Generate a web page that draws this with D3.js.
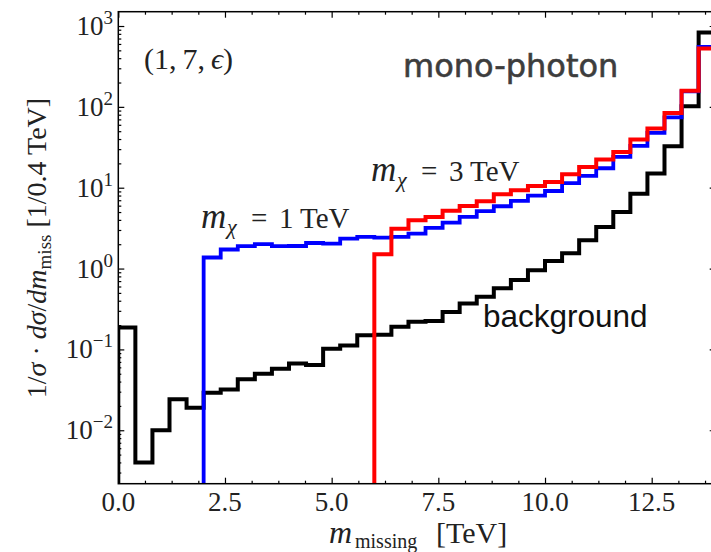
<!DOCTYPE html>
<html>
<head>
<meta charset="utf-8">
<script src="https://cdn.jsdelivr.net/npm/d3@7/dist/d3.min.js"></script>
<style>
  html, body { margin: 0; padding: 0; background: #fff; }
  svg { display: block; }
</style>
</head>
<body>
<svg id="chart" width="711" height="552"></svg>
<script>
// ---------------- data ----------------
const binStart = [0, 0.4, 0.8, 1.2, 1.6, 2.0, 2.4, 2.8, 3.2, 3.6, 4.0, 4.4, 4.8, 5.2, 5.6,
                  6.0, 6.4, 6.8, 7.2, 7.6, 8.0, 8.4, 8.8, 9.2, 9.6, 10.0, 10.4, 10.8, 11.2,
                  11.6, 12.0, 12.4, 12.8, 13.2, 13.6];
const binWidth = 0.4;

const background = [0.186, 0.0040, 0.0100, 0.0242, 0.019, 0.029, 0.032, 0.0426, 0.050, 0.0577,
                    0.067, 0.064, 0.102, 0.112, 0.150, 0.152, 0.191, 0.220, 0.224, 0.29,
                    0.371, 0.449, 0.57, 0.72, 0.95, 1.24, 1.55, 2.24, 3.27, 5.0,
                    8.4, 15.0, 32.6, 102, 834];

const signal1TeV = [null, null, null, null, null,
                    1.37, 1.72, 1.89, 2.0, 1.89, 1.9, 2.07, 2.04, 2.35, 2.46,
                    2.42, 2.46, 2.71, 3.18, 3.71, 4.35, 5.14, 5.9, 6.87, 8.0,
                    9.1, 11.4, 14.0, 17.4, 24, 32.9, 47.6, 74, 155, 553];

const signal3TeV = [null, null, null, null, null, null, null, null, null, null,
                    null, null, null, null, null,
                    1.5, 3.1, 3.96, 4.35, 5.2, 5.95, 6.8, 8.3, 9.3, 10.5,
                    11.8, 14.7, 18.1, 22.3, 27.7, 39.5, 54, 84, 158, 528];

const xMajorTicks = [0, 2.5, 5.0, 7.5, 10.0, 12.5];
const xTickLabels = ["0.0", "2.5", "5.0", "7.5", "10.0", "12.5"];
const yMajorTicks = [1e-2, 1e-1, 1e0, 1e1, 1e2, 1e3];
const yTickExponents = ["\u22122", "\u22121", "0", "1", "2", "3"];

// ---------------- layout ----------------
const svg = d3.select("#chart");
const L = 118.3, R = 715.7, T = 11.7, B = 483.7;
const x = d3.scaleLinear().domain([0, 14]).range([L, R]);
const y = d3.scaleLog().domain([Math.pow(10, -2.661), Math.pow(10, 3.177)]).range([B, T]);

const serif = "'Liberation Serif', 'Times New Roman', serif";
const ink = "#222";

svg.append("defs").append("clipPath").attr("id", "plotclip")
  .append("rect").attr("x", L).attr("y", T).attr("width", R - L).attr("height", B - T);

// ---------------- axes (ticks inward) ----------------
const xMinor = d3.range(0, 14.01, 0.625).filter(v => Math.abs(v / 2.5 - Math.round(v / 2.5)) > 1e-6);
const yMinor = [];
for (let e = -3; e <= 3; e++) for (let m = 2; m <= 9; m++) {
  const v = m * Math.pow(10, e);
  if (v > y.domain()[0] && v < y.domain()[1]) yMinor.push(v);
}

function styleAxis(g) {
  g.select(".domain").remove();
  g.selectAll(".tick line").attr("stroke", "#000").attr("stroke-width", 1.2);
  g.selectAll(".tick text").remove();
}
svg.append("g").attr("transform", `translate(0,${B})`)
  .call(d3.axisBottom(x).tickValues(xMajorTicks).tickSize(-6).tickFormat("")).call(styleAxis);
svg.append("g").attr("transform", `translate(0,${B})`)
  .call(d3.axisBottom(x).tickValues(xMinor).tickSize(-3).tickFormat("")).call(styleAxis);
svg.append("g").attr("transform", `translate(0,${T})`)
  .call(d3.axisTop(x).tickValues(xMajorTicks).tickSize(-6).tickFormat("")).call(styleAxis);
svg.append("g").attr("transform", `translate(0,${T})`)
  .call(d3.axisTop(x).tickValues(xMinor).tickSize(-3).tickFormat("")).call(styleAxis);
svg.append("g").attr("transform", `translate(${L},0)`)
  .call(d3.axisLeft(y).tickValues(yMajorTicks).tickSize(-6).tickFormat("")).call(styleAxis);
svg.append("g").attr("transform", `translate(${L},0)`)
  .call(d3.axisLeft(y).tickValues(yMinor).tickSize(-3).tickFormat("")).call(styleAxis);
svg.append("g").attr("transform", `translate(${R},0)`)
  .call(d3.axisRight(y).tickValues(yMajorTicks).tickSize(-6).tickFormat("")).call(styleAxis);
svg.append("g").attr("transform", `translate(${R},0)`)
  .call(d3.axisRight(y).tickValues(yMinor).tickSize(-3).tickFormat("")).call(styleAxis);

// tick labels
svg.append("g").selectAll("text").data(xMajorTicks).join("text")
  .attr("x", d => x(d)).attr("y", B + 27)
  .attr("text-anchor", "middle")
  .attr("font-family", serif).attr("font-size", 27).attr("fill", ink)
  .text((d, i) => xTickLabels[i]);

const yl = svg.append("g").selectAll("text").data(yMajorTicks).join("text")
  .attr("x", 113).attr("y", d => y(d) + 9)
  .attr("text-anchor", "end")
  .attr("font-family", serif).attr("fill", ink);
yl.append("tspan").attr("font-size", 27).text("10");
yl.append("tspan").attr("font-size", 19).attr("dy", -11).text((d, i) => yTickExponents[i]);

// ---------------- histogram steps ----------------
function stepPoints(vals) {
  const pts = [];
  let started = false, lastX = 0;
  vals.forEach((v, i) => {
    if (v == null) return;
    const x0 = binStart[i], x1 = binStart[i] + binWidth;
    if (!started) { pts.push([x(x0), B + 20]); started = true; }
    pts.push([x(x0), y(v)], [x(x1), y(v)]);
    lastX = x1;
  });
  pts.push([x(lastX), B + 20]);
  return pts;
}
const line = d3.line();
const plot = svg.append("g").attr("clip-path", "url(#plotclip)");
[[background, "#000", 4], [signal1TeV, "#0000ff", 3.8], [signal3TeV, "#ff0000", 4]].forEach(([vals, col, w]) => {
  plot.append("path").attr("d", line(stepPoints(vals)))
    .attr("fill", "none").attr("stroke", col).attr("stroke-width", w)
    .attr("stroke-linejoin", "miter").attr("stroke-linecap", "butt");
});

// frame
svg.append("rect").attr("x", L).attr("y", T).attr("width", R - L).attr("height", B - T)
  .attr("fill", "none").attr("stroke", "#000").attr("stroke-width", 1.5);

// ---------------- axis titles ----------------
const xt = svg.append("text").attr("y", 543)
  .attr("font-family", serif).attr("font-size", 30).attr("fill", ink);
xt.append("tspan").attr("x", 329).attr("font-style", "italic").attr("font-size", 32).text("m");
xt.append("tspan").attr("x", 355).attr("font-size", 20).attr("dy", 5).text("missing");
xt.append("tspan").attr("x", 436).attr("dy", -5).text("[TeV]");

const yt = svg.append("text").attr("transform", "translate(46,248) rotate(-90)")
  .attr("text-anchor", "middle")
  .attr("font-family", serif).attr("font-size", 28).attr("fill", ink);
yt.append("tspan").text("1/");
yt.append("tspan").attr("font-style", "italic").text("\u03C3");
yt.append("tspan").text(" \u00B7 ");
yt.append("tspan").attr("font-style", "italic").text("d\u03C3");
yt.append("tspan").text("/");
yt.append("tspan").attr("font-style", "italic").text("dm");
yt.append("tspan").attr("font-size", 19).attr("dy", 5).text("miss");
yt.append("tspan").attr("dy", -5).text(" [1/0.4 TeV]");

// ---------------- annotations ----------------
const a1 = svg.append("text").attr("x", 144).attr("y", 69)
  .attr("font-family", serif).attr("font-size", 30).attr("fill", ink);
a1.append("tspan").text("(1,\u20097,\u2009");
a1.append("tspan").attr("font-style", "italic").text("\u03F5");
a1.append("tspan").text(")");

svg.append("text").attr("x", 403).attr("y", 77)
  .attr("font-family", "'DejaVu Sans', sans-serif").attr("font-size", 32)
  .attr("fill", "#3d3d3d").attr("stroke", "#3d3d3d").attr("stroke-width", 0.6)
  .text("mono-photon");

svg.append("text").attr("x", 483).attr("y", 327)
  .attr("font-family", "'Liberation Sans', Arial, sans-serif").attr("font-size", 31.5)
  .attr("fill", "#111").text("background");

function massLabel(xp, yp, val) {
  const t = svg.append("text").attr("y", yp)
    .attr("font-family", serif).attr("font-size", 29).attr("fill", ink);
  t.append("tspan").attr("x", xp).attr("font-style", "italic").attr("font-size", 35).text("m");
  t.append("tspan").attr("x", xp + 26).attr("font-style", "italic").attr("font-size", 22).attr("dy", 6).text("\u03C7");
  t.append("tspan").attr("x", xp + 50).attr("dy", -6).text("=");
  t.append("tspan").attr("x", xp + 78).text(val);
  t.append("tspan").attr("x", xp + 99).text("TeV");
}
massLabel(201, 228, "1");
massLabel(371, 181, "3");
</script>
</body>
</html>
